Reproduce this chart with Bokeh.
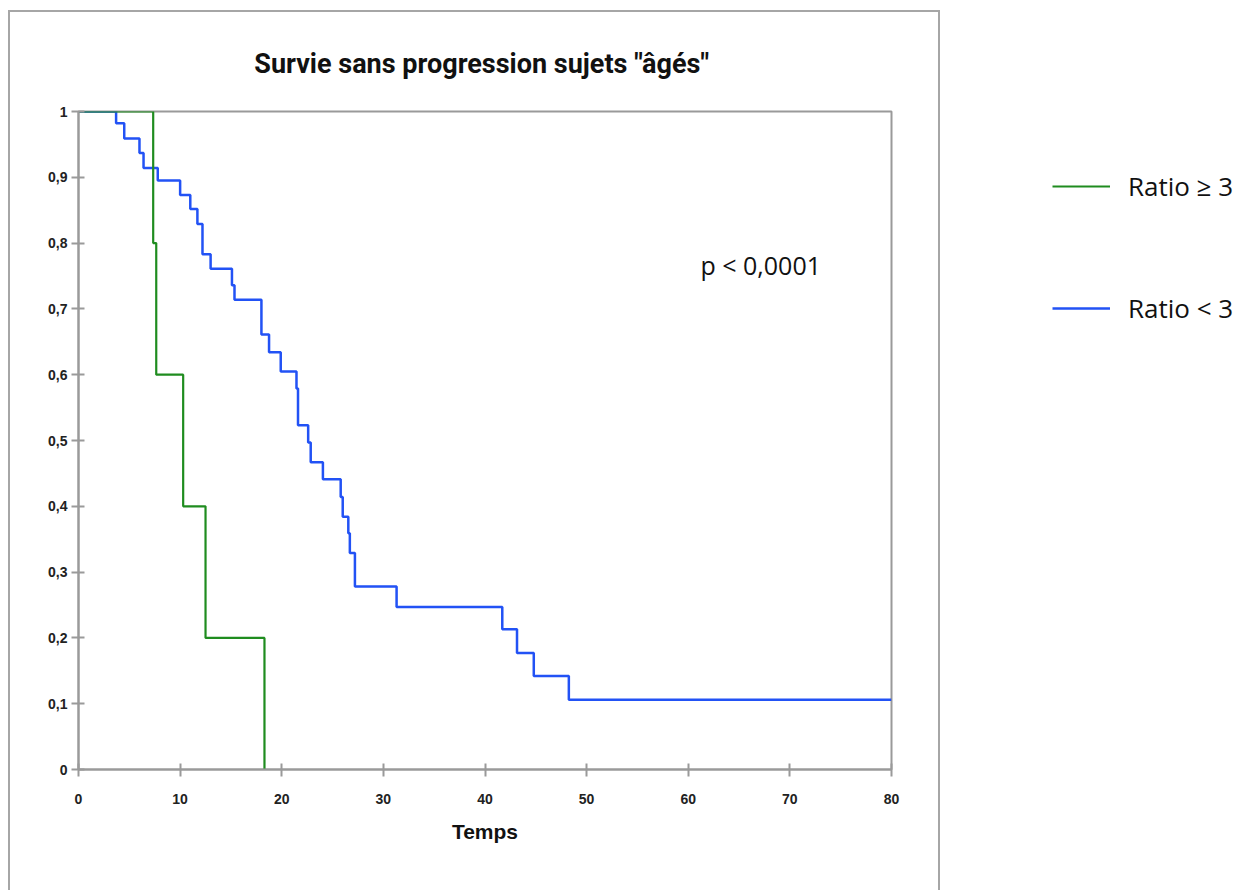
from bokeh.plotting import figure
from bokeh.layouts import row
from bokeh.models import FixedTicker, Legend, LegendItem, Label, Range1d
from bokeh.embed import file_html
from bokeh.resources import INLINE

# ---- data ----
title_text = 'Survie sans progression  sujets "âgés"'
x_label = "Temps"
x_ticks = [0, 10, 20, 30, 40, 50, 60, 70, 80]
y_ticks = [0, 0.1, 0.2, 0.3, 0.4, 0.5, 0.6, 0.7, 0.8, 0.9, 1.0]
y_tick_labels = ["0", "0,1", "0,2", "0,3", "0,4", "0,5", "0,6", "0,7", "0,8", "0,9", "1"]

t_high = [0, 7.35, 7.65, 10.3, 12.5, 18.3]
s_high = [1.0, 0.8, 0.6, 0.4, 0.2, 0.0]
label_high = "Ratio \u2265 3"

t_low = [0, 3.7, 4.5, 6.0, 6.4, 7.8, 10.0, 11.0, 11.7, 12.2, 13.0, 15.1, 15.35,
         18.0, 18.75, 19.9, 21.45, 21.6, 22.6, 22.85, 24.05, 25.8, 26.0, 26.55,
         26.7, 27.2, 31.3, 41.7, 43.15, 44.8, 48.25, 80]
s_low = [1.0, 0.982, 0.959, 0.937, 0.914, 0.895, 0.873, 0.852, 0.829, 0.783, 0.761,
         0.736, 0.714, 0.661, 0.634, 0.605, 0.579, 0.523, 0.497, 0.467, 0.441,
         0.414, 0.384, 0.359, 0.329, 0.278, 0.247, 0.213, 0.177, 0.142, 0.106, 0.106]
label_low = "Ratio < 3"

p_value_text = "p < 0,0001"
p_value_pos = (61.2, 0.766)

GREEN = "#1f8c1f"
BLUE = "#2252f5"
GREY = "#9a9a9a"
BOX = "2px solid #a6a6a6"

# ---- main chart (inside the grey outer box) ----
p = figure(width=932, height=880, output_backend="svg", toolbar_location=None,
           x_range=Range1d(0, 80), y_range=Range1d(0, 1),
           min_border_left=68, min_border_right=51, min_border_top=99,
           min_border_bottom=123, margin=(10, 0, 0, 8),
           styles={"border-left": BOX, "border-top": BOX, "border-right": BOX,
                   "box-sizing": "border-box"})

p.title.text = title_text
p.title.align = "center"
p.title.text_font = "Roboto"
p.title.text_font_size = "27px"
p.title.text_font_style = "bold"
p.title.text_color = "#111111"
p.title.standoff = 64

p.xgrid.visible = False
p.ygrid.visible = False
p.outline_line_color = GREY
p.outline_line_width = 2
p.background_fill_color = "white"
p.border_fill_color = "white"

for ax in (p.xaxis[0], p.yaxis[0]):
    ax.axis_line_color = GREY
    ax.axis_line_width = 2
    ax.major_tick_line_color = GREY
    ax.major_tick_line_width = 2
    ax.major_tick_in = 6
    ax.major_tick_out = 7
    ax.minor_tick_line_color = None
    ax.major_label_text_font = "Liberation Sans"
    ax.major_label_text_font_style = "bold"
    ax.major_label_text_font_size = "14px"
    ax.major_label_text_color = "#222222"

p.xaxis.ticker = FixedTicker(ticks=x_ticks)
p.xaxis.major_label_standoff = 17
p.xaxis.axis_label = x_label
p.xaxis.axis_label_text_font = "Liberation Sans"
p.xaxis.axis_label_text_font_style = "bold"
p.xaxis.axis_label_text_font_size = "21px"
p.xaxis.axis_label_standoff = 13
p.xaxis.axis_label_text_color = "#111111"

p.yaxis.ticker = FixedTicker(ticks=y_ticks)
p.yaxis.major_label_overrides = {t: l for t, l in zip(y_ticks, y_tick_labels)}
p.yaxis.major_label_standoff = 4

r_low = p.step(t_low, s_low, mode="after", line_color=BLUE, line_width=2.5)
r_high = p.step(t_high, s_high, mode="after", line_color=GREEN, line_width=2.2)

p.add_layout(Label(x=p_value_pos[0], y=p_value_pos[1], text=p_value_text,
                   text_font="Open Sans", text_font_size="25px",
                   text_baseline="middle", text_color="#111111"))

# ---- legend area (outside the box, on the right) ----
# same series, drawn off-view so that only their legend entries show
q = figure(width=299, height=890, output_backend="svg", toolbar_location=None,
           x_range=Range1d(1000, 1001), y_range=Range1d(1000, 1001),
           x_axis_location=None, y_axis_location=None,
           min_border=0, outline_line_color=None)
q.xgrid.visible = False
q.ygrid.visible = False
lg_high = q.step(t_high, s_high, mode="after", line_color=GREEN, line_width=2.2)
lg_low = q.step(t_low, s_low, mode="after", line_color=BLUE, line_width=2.5)

legend = Legend(items=[LegendItem(label=label_high, renderers=[lg_high]),
                       LegendItem(label=label_low, renderers=[lg_low])],
                location=(112, 441), orientation="vertical",
                glyph_width=58, glyph_height=34, label_height=34,
                label_standoff=18, spacing=86, padding=0, margin=0,
                label_text_font="Open Sans", label_text_font_size="26px",
                label_text_color="#111111",
                border_line_alpha=0, background_fill_alpha=0)
q.add_layout(legend, "center")

layout = row(p, q)
open("out.html", "w").write(file_html(layout, INLINE))
